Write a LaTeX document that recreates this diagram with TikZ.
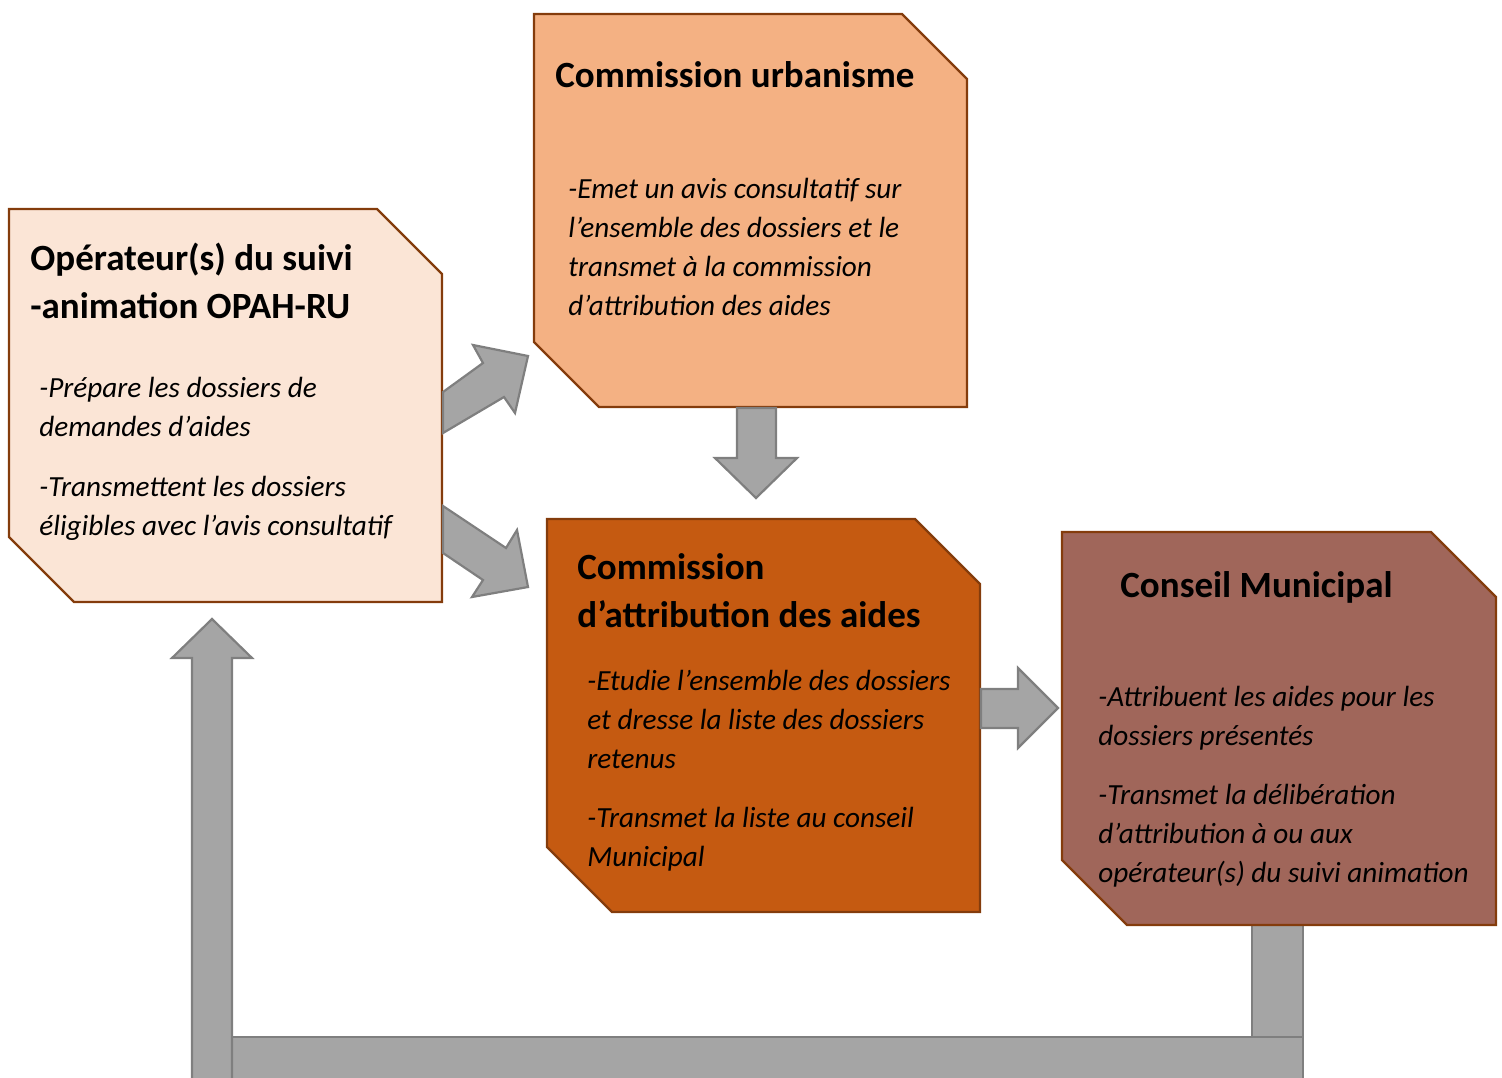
\documentclass[tikz,border=0pt]{standalone}
\usepackage{fontspec}
\setmainfont{Carlito}
\definecolor{edge}{HTML}{843C0C}
\definecolor{fillA}{HTML}{FBE5D6}
\definecolor{fillB}{HTML}{F4B183}
\definecolor{fillC}{HTML}{C55A11}
\definecolor{fillD}{HTML}{A0665A}
\definecolor{arrfill}{HTML}{A5A5A5}
\definecolor{arredge}{HTML}{7F7F7F}
\begin{document}
\begin{tikzpicture}[x=0.5pt,y=-0.5pt,
  boxline/.style={draw=edge,line width=1.2pt,line join=miter},
  blockarrow/.style={fill=arrfill,draw=arredge,line width=1.1pt,line join=miter},
  titletext/.style={font=\fontsize{18.5}{24}\selectfont\bfseries,align=left,inner sep=0pt,anchor=base west},
  bodytext/.style={font=\fontsize{14.6}{19.5}\selectfont\itshape,align=left,inner sep=0pt,anchor=base west}]
\useasboundingbox (0,0) rectangle (1502,1077);
\clip (0,0) rectangle (1502,1077);

% bottom return connector (drawn first, lies below boxes)
\draw[blockarrow] (232,1037) rectangle (1303,1120);
\draw[blockarrow] (1252,925) rectangle (1303,1037);
\draw[blockarrow] (192,1120) -- (192,658) -- (172,658) -- (212,619) -- (252,658) -- (232,658) -- (232,1120) -- cycle;

% boxes
\draw[boxline,fill=fillA] (9,209) coordinate (opNW) -- (377,209) -- (442,274) -- (442,602) coordinate (opSE) -- (74,602) -- (9,537) -- cycle;
\draw[boxline,fill=fillB] (534,14) coordinate (cuNW) -- (902,14) -- (967,79) -- (967,407) coordinate (cuSE) -- (599,407) -- (534,342) -- cycle;
\draw[boxline,fill=fillC] (547,519) coordinate (caNW) -- (915,519) -- (980,584) -- (980,912) coordinate (caSE) -- (612,912) -- (547,847) -- cycle;
\draw[boxline,fill=fillD] (1062,532) coordinate (cmNW) -- (1431,532) -- (1496,597) -- (1496,925) coordinate (cmSE) -- (1127,925) -- (1062,860) -- cycle;

% block arrows between boxes
\draw[blockarrow] (443,392) -- (483,363) -- (473,345) -- (528,356) -- (515,413) -- (504,397) -- (443,433) -- cycle;
\draw[blockarrow] (443,506) -- (506,548) -- (517,530) -- (528,587) -- (472,597) -- (483,580) -- (443,553) -- cycle;
\draw[blockarrow] (737,408) -- (737,458) -- (715,458) -- (756,498) -- (797,458) -- (776,458) -- (776,408) -- cycle;
\draw[blockarrow] (981,689) -- (1018,689) -- (1018,668) -- (1058,708) -- (1018,748) -- (1018,728) -- (981,728) -- cycle;

% texts (anchor = baseline of last line)
\node[titletext] (opT) at (30,318) {Opérateur(s) du suivi\\-animation OPAH-RU};
\node[bodytext] (opB1) at (39,436) {-Prépare les dossiers de\\demandes d’aides};
\node[bodytext] (opB2) at (39,535) {-Transmettent les dossiers\\éligibles avec l’avis consultatif};

\node[titletext] (cuT) at (555,87) {Commission urbanisme};
\node[bodytext] (cuB) at (568,315) {-Emet un avis consultatif sur\\l’ensemble des dossiers et le\\transmet à la commission\\d’attribution des aides};

\node[titletext] (caT) at (577,627) {Commission\\d’attribution des aides};
\node[bodytext] (caB1) at (587,768) {-Etudie l’ensemble des dossiers\\et dresse la liste des dossiers\\retenus};
\node[bodytext] (caB2) at (587,866) {-Transmet la liste au conseil\\Municipal};

\node[titletext] (cmT) at (1120,597) {Conseil Municipal};
\node[bodytext] (cmB1) at (1098,745) {-Attribuent les aides pour les\\dossiers présentés};
\node[bodytext] (cmB2) at (1098,882) {-Transmet la délibération\\d’attribution à ou aux\\opérateur(s) du suivi animation};
\end{tikzpicture}
\end{document}
